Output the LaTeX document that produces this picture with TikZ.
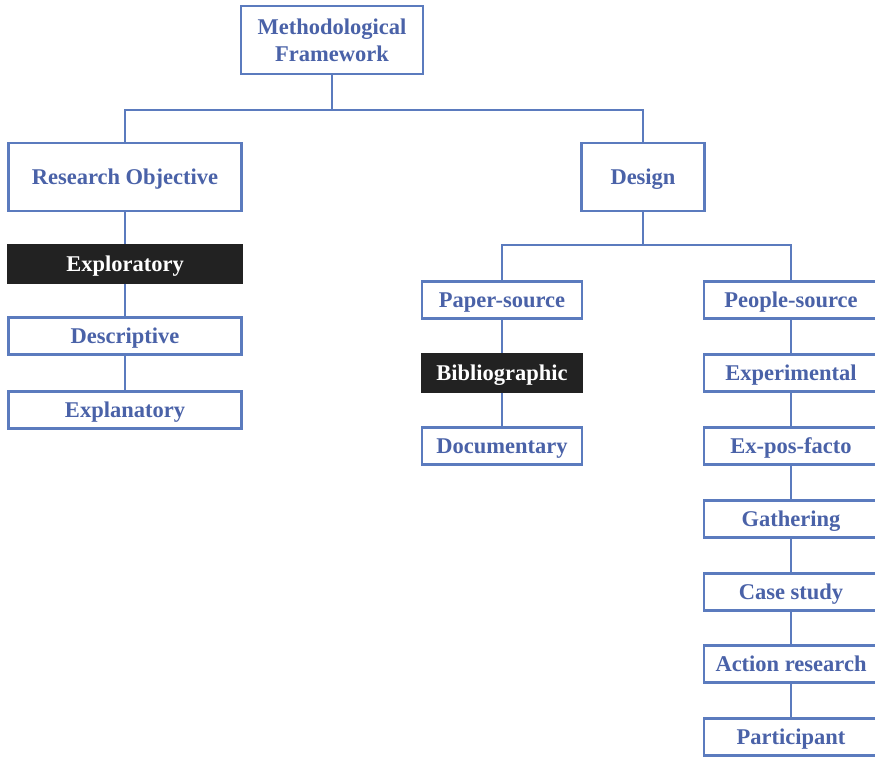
\documentclass[tikz,border=0pt]{standalone}
\usepackage{fontspec}
\setmainfont{Liberation Serif}
\definecolor{frameblue}{HTML}{5B7BBE}
\definecolor{textblue}{HTML}{4A62A8}
\definecolor{boxblack}{HTML}{222222}
\begin{document}
\begin{tikzpicture}[x=1pt,y=-1pt,
	box/.style={draw=frameblue, line width=2.4pt, fill=white, text=textblue, font=\bfseries\fontsize{22.5}{27}\selectfont, align=center, inner sep=0pt, text depth=0pt, minimum height=37pt},
	darkbox/.style={box, draw=boxblack, fill=boxblack, text=white},
	link/.style={draw=frameblue, line width=2.4pt}]
	\useasboundingbox (0,0) rectangle (875,757);
	
	\node[box, minimum width=182pt, minimum height=68pt] (frame) at (332,40) {Methodological\\Framework};
	\node[box, minimum width=233pt, minimum height=68pt] (objective) at (125,177) {Research Objective};
	\node[box, minimum width=123pt, minimum height=68pt] (design) at (643,177) {Design};
	
	\node[darkbox, minimum width=234pt] (exploratory) at (125,264) {Exploratory};
	\node[box, minimum width=233pt] (descriptive) at (125,336) {Descriptive};
	\node[box, minimum width=233pt] (explanatory) at (125,410) {Explanatory};
	
	\node[box, minimum width=160pt] (paper) at (502,300) {Paper-source};
	\node[darkbox, minimum width=160pt] (biblio) at (502,373) {Bibliographic};
	\node[box, minimum width=160pt] (documentary) at (502,446) {Documentary};
	
	\node[box, minimum width=174pt] (people) at (791,300) {People-source};
	\node[box, minimum width=174pt] (experimental) at (791,373) {Experimental};
	\node[box, minimum width=174pt] (expost) at (791,446) {Ex-pos-facto};
	\node[box, minimum width=174pt] (gathering) at (791,519) {Gathering};
	\node[box, minimum width=174pt] (casestudy) at (791,592) {Case study};
	\node[box, minimum width=174pt] (action) at (791,664) {Action research};
	\node[box, minimum width=174pt] (participant) at (791,737) {Participant};
	
	% junctions of the tree
	\coordinate (split) at (332,110);
	\coordinate (designsplit) at (643,245);
	
	\draw[link] (frame.south) -- (split) -| (objective.north);
	\draw[link] (split) -| (design.north);
	\draw[link] (objective) -- (exploratory);
	\draw[link] (exploratory) -- (descriptive);
	\draw[link] (descriptive) -- (explanatory);
	
	\draw[link] (design.south) -- (designsplit) -| (paper.north);
	\draw[link] (designsplit) -| (people.north);
	\draw[link] (paper) -- (biblio);
	\draw[link] (biblio) -- (documentary);
	
	\draw[link] (people) -- (experimental);
	\draw[link] (experimental) -- (expost);
	\draw[link] (expost) -- (gathering);
	\draw[link] (gathering) -- (casestudy);
	\draw[link] (casestudy) -- (action);
	\draw[link] (action) -- (participant);
\end{tikzpicture}
\end{document}
